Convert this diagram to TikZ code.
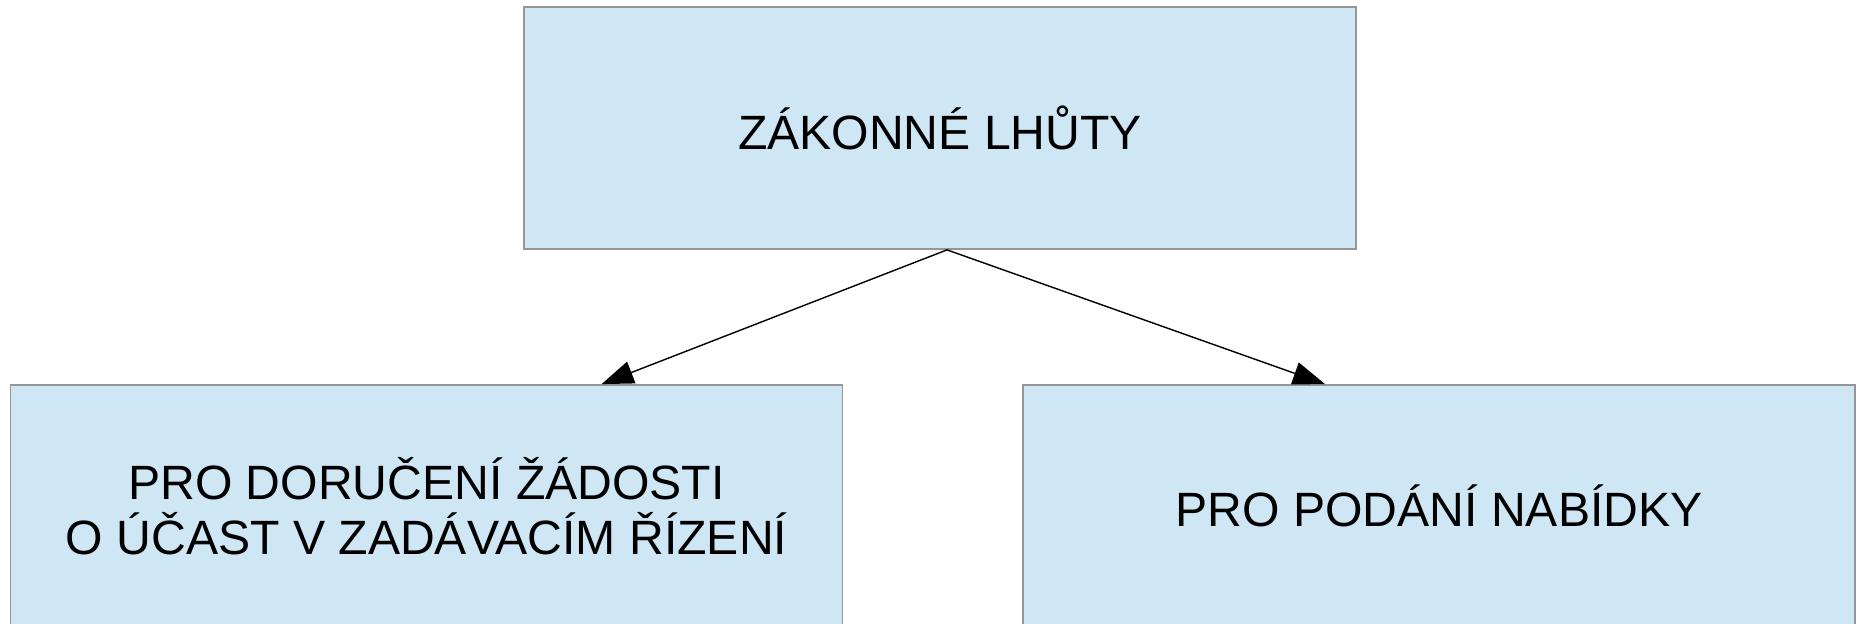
\documentclass[tikz,border=0pt]{standalone}
\usepackage{fontspec}
\setmainfont{Liberation Sans}
\usepackage{xcolor}
\usepackage{tikz}
\usetikzlibrary{arrows.meta, positioning, calc}

\definecolor{boxfill}{RGB}{207,231,245}
\definecolor{boxline}{RGB}{150,150,150}

\begin{document}
\begin{tikzpicture}[
                box/.style={draw=boxline, line width=0.5pt, fill=boxfill, minimum width=8.32cm, minimum height=2.42cm, inner sep=0pt, align=center},
                arrow/.style={-{Triangle[length=0.32cm, width=0.23cm]}, line width=0.4pt},
                every node/.style={font=\fontsize{13.7}{15.7}\selectfont}
            ]
            \useasboundingbox (0,0) rectangle (18.63,-6.24);

            % Nodes
            \node[box] (deadlines) at (9.40, -1.28) {ZÁKONNÉ LHŮTY};
            \node[box] (request) at (4.265, -5.06) {PRO DORUČENÍ ŽÁDOSTI\\O ÚČAST V ZADÁVACÍM ŘÍZENÍ};
            \node[box] (offer) at (14.39, -5.06) {PRO PODÁNÍ NABÍDKY};

            % Connection points
            \coordinate (split) at ($(deadlines.south)+(0.07,0)$);
            \coordinate (requestin) at ($(request.north)+(1.75,0)$);
            \coordinate (offerin) at ($(offer.north)+(-1.14,0)$);

            % Edges
            \draw[arrow] (split) -- (requestin);
            \draw[arrow] (split) -- (offerin);
            \end{tikzpicture}
\end{document}
